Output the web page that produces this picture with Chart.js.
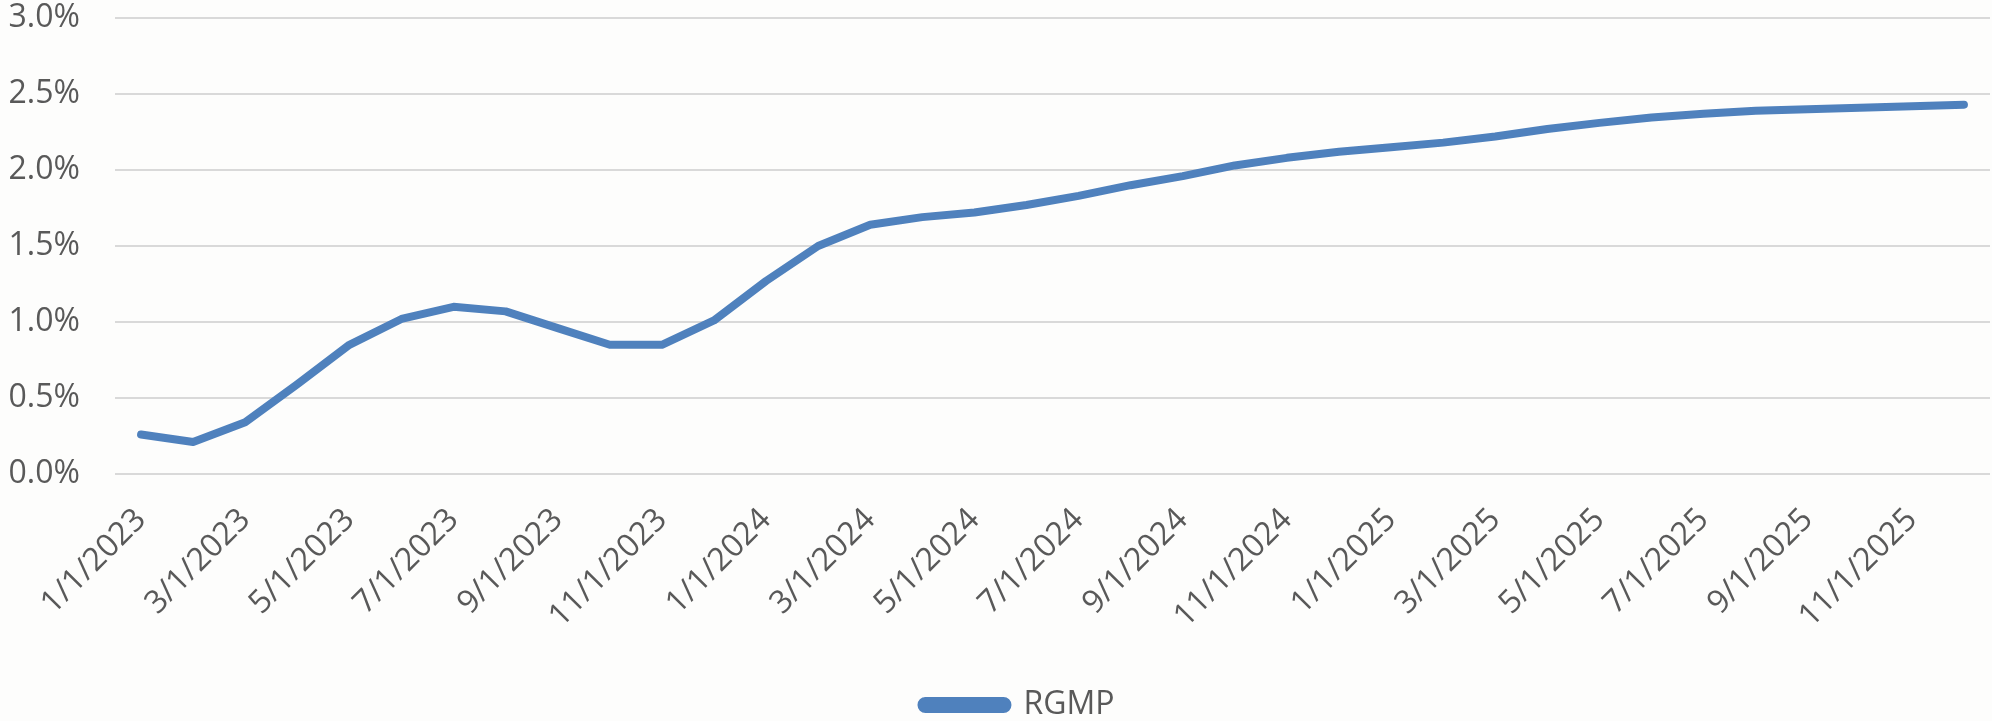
<!DOCTYPE html>
<html>
<head>
<meta charset="utf-8">
<script src="https://cdn.jsdelivr.net/npm/chart.js@4.4.1/dist/chart.umd.min.js"></script>
<style>
  html, body { margin: 0; padding: 0; background: #fdfdfc; }
  #wrap { width: 1992px; height: 721px; }
</style>
</head>
<body>
<div id="wrap"><canvas id="rgmpChart"></canvas></div>
<script>
const months = [
    '1/1/2023', '2/1/2023', '3/1/2023', '4/1/2023', '5/1/2023', '6/1/2023',
    '7/1/2023', '8/1/2023', '9/1/2023', '10/1/2023', '11/1/2023', '12/1/2023',
    '1/1/2024', '2/1/2024', '3/1/2024', '4/1/2024', '5/1/2024', '6/1/2024',
    '7/1/2024', '8/1/2024', '9/1/2024', '10/1/2024', '11/1/2024', '12/1/2024',
    '1/1/2025', '2/1/2025', '3/1/2025', '4/1/2025', '5/1/2025', '6/1/2025',
    '7/1/2025', '8/1/2025', '9/1/2025', '10/1/2025', '11/1/2025', '12/1/2025'
];

// RGMP, in percent
const rgmp = [
    0.26, 0.21, 0.34, 0.59, 0.85, 1.02,
    1.10, 1.07, 0.96, 0.85, 0.85, 1.01,
    1.27, 1.50, 1.64, 1.69, 1.72, 1.77,
    1.83, 1.90, 1.96, 2.03, 2.08, 2.12,
    2.15, 2.18, 2.22, 2.27, 2.31, 2.345,
    2.37, 2.39, 2.40, 2.41, 2.42, 2.43
];

const yTicks = [0, 0.5, 1.0, 1.5, 2.0, 2.5, 3.0];

const labelFont = { family: "'Open Sans', sans-serif", size: 32 };
const labelColor = '#595959';

// nudge the legend a little right of the canvas centre
const legendShift = {
    id: 'legendShift',
    afterLayout(chart) {
        chart.legend.left += 23;
        chart.legend.right += 23;
    }
};

new Chart(document.getElementById('rgmpChart'), {
    type: 'line',
    data: {
        labels: months,
        datasets: [{
            label: 'RGMP',
            data: rgmp,
            borderColor: '#4f81bd',
            backgroundColor: '#4f81bd',
            borderWidth: 8,
            borderCapStyle: 'round',
            borderJoinStyle: 'round',
            pointRadius: 0,
            tension: 0
        }]
    },
    plugins: [legendShift],
    options: {
        responsive: true,
        maintainAspectRatio: false,
        animation: false,
        // negative bottom lets the legend sit low, near the canvas edge
        layout: { padding: { top: 0, right: 2, left: 0, bottom: -10 } },
        scales: {
            x: {
                offset: true,
                grid: { display: false },
                border: { display: false },
                ticks: {
                    autoSkip: false,
                    minRotation: 45,
                    maxRotation: 45,
                    padding: 19,
                    labelOffset: 0,
                    color: labelColor,
                    font: labelFont,
                    callback: (v, i) => i % 2 === 0 ? months[i] : null
                },
                afterFit: scale => { scale.height = 214; }
            },
            y: {
                min: yTicks[0],
                max: yTicks[yTicks.length - 1],
                grid: { color: '#d9d9d9', lineWidth: 2, drawTicks: false },
                border: { display: false },
                ticks: {
                    stepSize: 0.5,
                    padding: 35,
                    color: labelColor,
                    font: labelFont,
                    callback: v => v.toFixed(1) + '%'
                },
                afterFit: scale => {
                    scale.width = 115;
                    // tick padding would otherwise push the plot down
                    scale.paddingTop = 18;
                    scale.paddingBottom = 0;
                }
            }
        },
        plugins: {
            tooltip: { enabled: false },
            legend: {
                position: 'bottom',
                labels: {
                    color: labelColor,
                    font: { family: "'Open Sans', sans-serif", size: 32, lineHeight: 1 },
                    boxWidth: 86,
                    boxHeight: 8,
                    useBorderRadius: true,
                    borderRadius: 4,
                    padding: 1
                }
            }
        }
    }
});
</script>
</body>
</html>
